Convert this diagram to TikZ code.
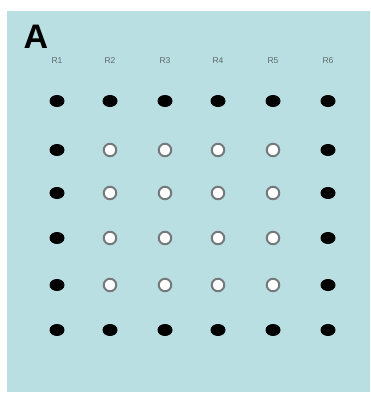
\documentclass[tikz,border=0pt]{standalone}
\usepackage{fontspec}
\setmainfont{Liberation Sans}
\definecolor{panel}{HTML}{BADFE2}
\definecolor{lab}{HTML}{5E6A6C}
\definecolor{ring}{HTML}{747A7B}
\tikzset{
  full/.style={ellipse, fill=black, minimum width=15pt, minimum height=12pt, inner sep=0pt},
  open/.style={circle, draw=ring, line width=2pt, fill=white, minimum size=12.5pt, inner sep=0pt},
  collab/.style={text=lab, font=\fontsize{8.5}{9}\selectfont}
}
\usetikzlibrary{shapes.geometric}
\begin{document}
\begin{tikzpicture}[x=1pt,y=-1pt]
\useasboundingbox (0,0) rectangle (370,394);
\fill[white] (0,0) rectangle (370,394);
\fill[panel] (7,11) rectangle (370,392);
\node[font=\bfseries\fontsize{34}{34}\selectfont, inner sep=0pt] (A) at (36,37) {A};
\foreach \c/\x in {1/57,2/110,3/165,4/218,5/273,6/328}{
  \node[collab] (R\c) at (\x,61) {R\c};
}
\foreach \r/\y in {1/101,2/150,3/193,4/238,5/285,6/330}{
  \foreach \c/\x in {1/57,2/110,3/165,4/218,5/273,6/328}{
    \pgfmathtruncatemacro{\inner}{(\r>1)&&(\r<6)&&(\c>1)&&(\c<6)}
    \ifnum\inner=1
      \node[open] (d\r\c) at (\x,\y) {};
    \else
      \node[full] (d\r\c) at (\x,\y) {};
    \fi
  }
}
\end{tikzpicture}
\end{document}
